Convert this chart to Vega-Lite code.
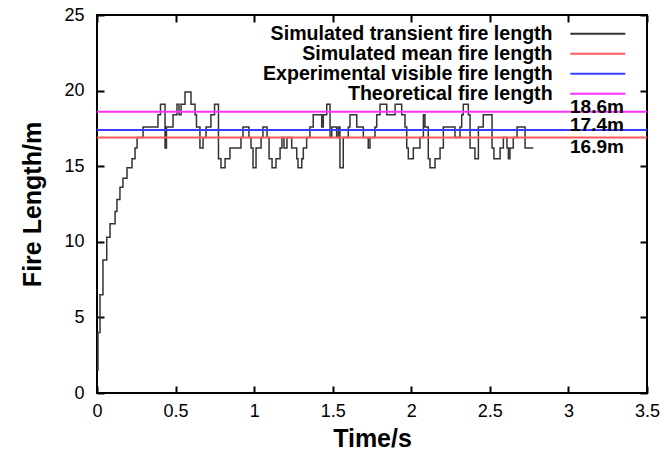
{
  "$schema": "https://vega.github.io/schema/vega-lite/v6.json",
  "width": 550,
  "height": 378,
  "autosize": {"type": "none"},
  "padding": {"left": 97, "top": 15, "right": 17, "bottom": 60},
  "background": "white",
  "config": {
    "view": {"stroke": "black", "strokeWidth": 2},
    "font": "Liberation Sans",
    "axis": {
      "grid": false, "domain": false, "tickColor": "black", "tickWidth": 2, "tickSize": -7,
      "labelFlush": false, "labelOverlap": false,
      "labelFont": "Liberation Sans", "labelFontSize": 18, "labelColor": "black",
      "titleFont": "Liberation Sans", "titleFontSize": 25, "titleFontWeight": "bold", "titleColor": "black"
    },
    "legend": {"title": null}
  },
  "datasets": {
    "transient": [
      {"t": 0.000, "len": 1.5}, {"t": 0.006, "len": 4.0}, {"t": 0.019, "len": 6.5}, {"t": 0.038, "len": 8.8},
      {"t": 0.062, "len": 10.3}, {"t": 0.083, "len": 11.2}, {"t": 0.115, "len": 12.0}, {"t": 0.127, "len": 12.8},
      {"t": 0.146, "len": 13.6}, {"t": 0.165, "len": 14.2}, {"t": 0.191, "len": 14.9}, {"t": 0.223, "len": 15.5},
      {"t": 0.242, "len": 16.2}, {"t": 0.255, "len": 16.9}, {"t": 0.293, "len": 17.6}, {"t": 0.388, "len": 18.4},
      {"t": 0.404, "len": 19.1}, {"t": 0.433, "len": 16.2}, {"t": 0.442, "len": 17.6}, {"t": 0.484, "len": 18.4},
      {"t": 0.509, "len": 19.1}, {"t": 0.522, "len": 18.4}, {"t": 0.535, "len": 19.1}, {"t": 0.560, "len": 19.9},
      {"t": 0.598, "len": 19.1}, {"t": 0.624, "len": 18.4}, {"t": 0.633, "len": 17.6}, {"t": 0.655, "len": 16.2},
      {"t": 0.675, "len": 16.9}, {"t": 0.694, "len": 17.6}, {"t": 0.725, "len": 18.4}, {"t": 0.748, "len": 19.1},
      {"t": 0.773, "len": 15.5}, {"t": 0.789, "len": 14.9}, {"t": 0.815, "len": 15.5}, {"t": 0.846, "len": 16.2},
      {"t": 0.916, "len": 16.9}, {"t": 0.929, "len": 17.6}, {"t": 0.967, "len": 16.9}, {"t": 0.980, "len": 16.2},
      {"t": 0.993, "len": 14.9}, {"t": 1.012, "len": 16.2}, {"t": 1.044, "len": 16.9}, {"t": 1.056, "len": 17.6},
      {"t": 1.082, "len": 16.9}, {"t": 1.095, "len": 15.5}, {"t": 1.114, "len": 14.9}, {"t": 1.139, "len": 15.5},
      {"t": 1.165, "len": 16.2}, {"t": 1.177, "len": 16.9}, {"t": 1.190, "len": 16.2}, {"t": 1.209, "len": 16.9},
      {"t": 1.239, "len": 16.2}, {"t": 1.271, "len": 15.5}, {"t": 1.279, "len": 14.9}, {"t": 1.303, "len": 15.5},
      {"t": 1.313, "len": 16.2}, {"t": 1.334, "len": 16.9}, {"t": 1.355, "len": 17.6}, {"t": 1.376, "len": 18.4},
      {"t": 1.430, "len": 17.6}, {"t": 1.440, "len": 18.4}, {"t": 1.462, "len": 19.1}, {"t": 1.483, "len": 16.9},
      {"t": 1.494, "len": 17.6}, {"t": 1.525, "len": 16.9}, {"t": 1.536, "len": 17.6}, {"t": 1.546, "len": 14.9},
      {"t": 1.567, "len": 16.9}, {"t": 1.599, "len": 17.6}, {"t": 1.610, "len": 18.4}, {"t": 1.653, "len": 17.6},
      {"t": 1.695, "len": 16.9}, {"t": 1.726, "len": 16.2}, {"t": 1.737, "len": 16.9}, {"t": 1.769, "len": 17.6},
      {"t": 1.780, "len": 18.4}, {"t": 1.801, "len": 19.1}, {"t": 1.844, "len": 18.4}, {"t": 1.897, "len": 19.1},
      {"t": 1.939, "len": 18.4}, {"t": 1.960, "len": 17.6}, {"t": 1.971, "len": 16.2}, {"t": 1.981, "len": 15.5},
      {"t": 2.013, "len": 16.2}, {"t": 2.055, "len": 16.9}, {"t": 2.077, "len": 18.4}, {"t": 2.087, "len": 17.6},
      {"t": 2.108, "len": 15.5}, {"t": 2.119, "len": 14.9}, {"t": 2.151, "len": 15.5}, {"t": 2.183, "len": 16.2},
      {"t": 2.204, "len": 17.6}, {"t": 2.278, "len": 16.9}, {"t": 2.310, "len": 17.6}, {"t": 2.321, "len": 18.4},
      {"t": 2.331, "len": 19.1}, {"t": 2.363, "len": 18.4}, {"t": 2.374, "len": 16.2}, {"t": 2.405, "len": 15.5},
      {"t": 2.427, "len": 17.6}, {"t": 2.458, "len": 18.4}, {"t": 2.514, "len": 16.2}, {"t": 2.526, "len": 15.5},
      {"t": 2.565, "len": 16.2}, {"t": 2.586, "len": 16.9}, {"t": 2.609, "len": 16.2}, {"t": 2.618, "len": 15.5},
      {"t": 2.628, "len": 16.2}, {"t": 2.649, "len": 16.9}, {"t": 2.673, "len": 17.6}, {"t": 2.724, "len": 16.2},
      {"t": 2.777, "len": 16.2}
    ],
    "levels": [
      {"series": "Simulated mean fire length", "value": 16.9, "label": "16.9m", "side": "below"},
      {"series": "Experimental visible fire length", "value": 17.4, "label": "17.4m", "side": "above"},
      {"series": "Theoretical fire length", "value": 18.6, "label": "18.6m", "side": "above"}
    ]
  },
  "layer": [
    {
      "data": {"name": "transient"},
      "mark": {"type": "line", "interpolate": "step-after", "strokeWidth": 1.5},
      "encoding": {
        "x": {"field": "t", "type": "quantitative", "scale": {"domain": [0, 3.5], "nice": false},
              "axis": {"values": [0, 0.5, 1, 1.5, 2, 2.5, 3, 3.5], "format": "~g", "title": "Time/s", "labelPadding": 16, "titlePadding": 6}},
        "y": {"field": "len", "type": "quantitative", "scale": {"domain": [0, 25], "nice": false},
              "axis": {"values": [0, 5, 10, 15, 20, 25], "title": "Fire Length/m", "labelPadding": 20, "titlePadding": 18}},
        "color": {
          "datum": "Simulated transient fire length", "type": "nominal",
          "scale": {
            "domain": ["Simulated transient fire length", "Simulated mean fire length", "Experimental visible fire length", "Theoretical fire length"],
            "range": ["#333333", "#ff5a5a", "#3c3cff", "#ff30ff"]
          },
          "legend": {
            "title": null, "orient": "none", "legendX": 491, "legendY": 9,
            "symbolType": "M-5,0H5", "symbolSize": 121, "symbolStrokeWidth": 2,
            "labelAlign": "right", "labelOffset": -55, "labelFontSize": 19.6, "labelFontWeight": "bold",
            "labelFont": "Liberation Sans", "labelColor": "black", "labelLimit": 600, "rowPadding": -2
          }
        }
      }
    },
    {
      "data": {"name": "transient"},
      "mark": {"type": "point", "opacity": 0},
      "encoding": {
        "x": {"field": "t", "type": "quantitative", "axis": {"orient": "top", "labels": false, "title": null, "values": [0, 0.5, 1, 1.5, 2, 2.5, 3, 3.5]}},
        "y": {"field": "len", "type": "quantitative", "axis": {"orient": "right", "labels": false, "title": null, "values": [0, 5, 10, 15, 20, 25]}}
      }
    },
    {
      "data": {"name": "levels"},
      "mark": {"type": "rule", "strokeWidth": 2},
      "encoding": {
        "y": {"field": "value", "type": "quantitative", "axis": null},
        "color": {"field": "series", "type": "nominal", "legend": {"title": null}}
      }
    },
    {
      "data": {"name": "levels"},
      "transform": [{"filter": "datum.side == 'above'"}],
      "mark": {"type": "text", "align": "left", "baseline": "alphabetic", "dy": 1, "fontSize": 19, "fontWeight": "bold", "color": "black"},
      "encoding": {
        "x": {"datum": 3.01, "type": "quantitative", "axis": null},
        "y": {"field": "value", "type": "quantitative", "axis": null},
        "text": {"field": "label"}
      }
    },
    {
      "data": {"name": "levels"},
      "transform": [{"filter": "datum.side == 'below'"}],
      "mark": {"type": "text", "align": "left", "baseline": "top", "dy": 1, "fontSize": 19, "fontWeight": "bold", "color": "black"},
      "encoding": {
        "x": {"datum": 3.01, "type": "quantitative", "axis": null},
        "y": {"field": "value", "type": "quantitative", "axis": null},
        "text": {"field": "label"}
      }
    }
  ],
  "resolve": {"axis": {"x": "independent", "y": "independent"}}
}
